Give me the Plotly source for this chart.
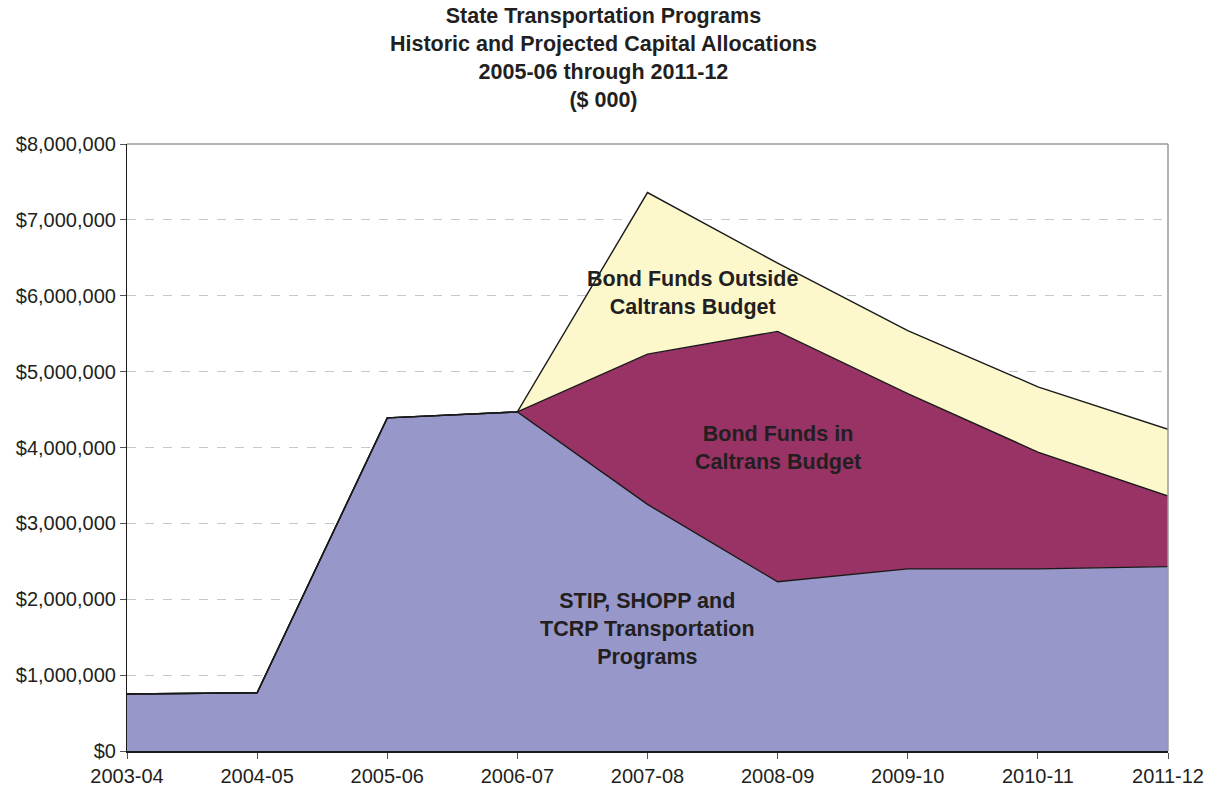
import plotly.graph_objects as go

years = ["2003-04", "2004-05", "2005-06", "2006-07", "2007-08",
         "2008-09", "2009-10", "2010-11", "2011-12"]
stip_shopp_tcrp = [752000, 768000, 4390000, 4470000, 3250000, 2230000, 2400000, 2400000, 2430000]
bond_in_caltrans = [0, 0, 0, 0, 1980000, 3300000, 2310000, 1540000, 930000]
bond_outside_caltrans = [0, 0, 0, 0, 2130000, 900000, 830000, 860000, 880000]

series_names = ["STIP, SHOPP and TCRP Transportation Programs",
                "Bond Funds in Caltrans Budget",
                "Bond Funds Outside Caltrans Budget"]
series_values = [stip_shopp_tcrp, bond_in_caltrans, bond_outside_caltrans]
series_colors = ["#9797C9", "#993366", "#FCF8CC"]

title_text = ("State Transportation Programs<br>Historic and Projected Capital Allocations"
              "<br>2005-06 through 2011-12<br>($ 000)")

FONT = "Liberation Sans, Arial, sans-serif"
TXT = "#231F20"
W, H = 1209, 791

fig = go.Figure()
for name, vals, col in zip(series_names, series_values, series_colors):
    fig.add_trace(go.Scatter(
        x=years, y=vals, name=name, stackgroup="one", mode="lines",
        line=dict(color="#1a1a1a", width=1.4), fillcolor=col,
        hoverinfo="x+y"))

fig.update_layout(
    width=W, height=H,
    margin=dict(l=127, r=41, t=144, b=40, autoexpand=False),
    paper_bgcolor="white", plot_bgcolor="white",
    showlegend=False,
    font=dict(family=FONT, color=TXT, size=20),
)

fig.update_xaxes(
    type="category", range=[0, 8], showgrid=False,
    showline=True, linecolor="#1a1a1a", linewidth=1.5,
    ticks="outside", ticklen=6, tickcolor="#555", tickwidth=1,
    tickfont=dict(family=FONT, size=20, color=TXT), zeroline=False)

fig.update_yaxes(
    range=[0, 8000000], dtick=1000000, tickformat="$,.0f",
    showgrid=True, gridcolor="#c8c8c8", griddash="dash", gridwidth=1,
    showline=True, linecolor="#1a1a1a", linewidth=1.2,
    ticks="outside", ticklen=6, tickcolor="#555", tickwidth=1,
    tickfont=dict(family=FONT, size=20, color=TXT), zeroline=False)

# frame (top and right in grey)
fig.add_shape(type="line", xref="paper", yref="paper", x0=0, x1=1, y0=1, y1=1,
              line=dict(color="#9a9a9a", width=1.5), layer="above")
fig.add_shape(type="line", xref="paper", yref="paper", x0=1, x1=1, y0=0, y1=1,
              line=dict(color="#9a9a9a", width=1.5), layer="above")

# title (as a centred multi-line annotation)
fig.add_annotation(text=title_text, xref="paper", yref="paper",
                   x=0.4582, y=1.1417, xanchor="center", yanchor="middle",
                   showarrow=False, align="center",
                   font=dict(family=FONT, size=21.5, color=TXT, weight="bold"))

labels = [
    ("Bond Funds Outside<br>Caltrans Budget", 0.543, 6030000),
    ("Bond Funds in<br>Caltrans Budget", 0.625, 4000000),
    ("STIP, SHOPP and<br>TCRP Transportation<br>Programs", 0.5, 1610000),
]
for txt, xp, yv in labels:
    fig.add_annotation(text=txt, xref="paper", yref="y", x=xp, y=yv,
                       showarrow=False, align="center",
                       font=dict(family=FONT, size=21.5, color=TXT, weight="bold"))

fig.write_html("out.html",
               config={"displayModeBar": False},
               post_script="document.body.style.margin='0px';document.body.style.overflow='hidden';")
